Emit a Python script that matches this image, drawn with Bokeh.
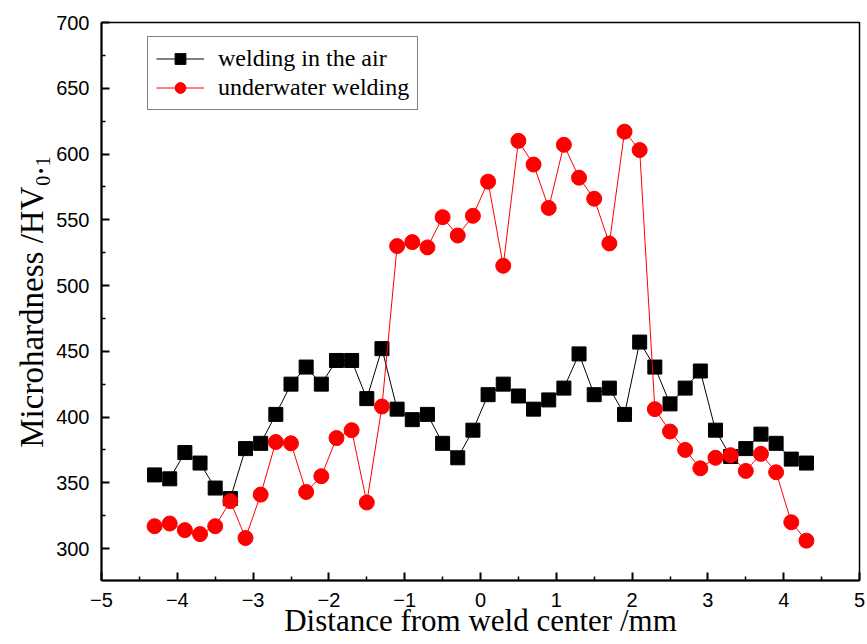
from bokeh.plotting import figure
from bokeh.models import Range1d, Legend, LegendItem, FixedTicker
from bokeh.embed import file_html
from bokeh.resources import INLINE

x_mm = [-4.3, -4.1, -3.9, -3.7, -3.5, -3.3, -3.1, -2.9, -2.7, -2.5, -2.3, -2.1, -1.9, -1.7, -1.5,
        -1.3, -1.1, -0.9, -0.7, -0.5, -0.3, -0.1, 0.1, 0.3, 0.5, 0.7, 0.9, 1.1, 1.3, 1.5,
        1.7, 1.9, 2.1, 2.3, 2.5, 2.7, 2.9, 3.1, 3.3, 3.5, 3.7, 3.9, 4.1, 4.3]
air = [356, 353, 373, 365, 346, 338, 376, 380, 402, 425, 438, 425, 443, 443, 414,
       452, 406, 398, 402, 380, 369, 390, 417, 425, 416, 406, 413, 422, 448, 417,
       422, 402, 457, 438, 410, 422, 435, 390, 370, 376, 387, 380, 368, 365]
underwater = [317, 319, 314, 311, 317, 336, 308, 341, 381, 380, 343, 355, 384, 390, 335,
              408, 530, 533, 529, 552, 538, 553, 579, 515, 610, 592, 559, 607, 582, 566,
              532, 617, 603, 406, 389, 375, 361, 369, 371, 359, 372, 358, 320, 306]
x_ticks = [-5, -4, -3, -2, -1, 0, 1, 2, 3, 4, 5]
y_ticks = [300, 350, 400, 450, 500, 550, 600, 650, 700]

p = figure(width=867, height=644, output_backend="svg", toolbar_location=None,
           x_range=Range1d(-5, 5), y_range=Range1d(275.7, 700),
           min_border_left=101, min_border_right=8, min_border_top=22, min_border_bottom=64)
p.grid.visible = False
p.outline_line_color = "black"
p.outline_line_width = 1.5
p.background_fill_color = "white"
p.border_fill_color = "white"

for ax in (p.xaxis[0], p.yaxis[0]):
    ax.major_tick_in = 8
    ax.major_tick_out = 0
    ax.minor_tick_in = 4
    ax.minor_tick_out = 0
    ax.axis_line_width = 2
    ax.major_tick_line_width = 2
    ax.minor_tick_line_width = 1.5
    ax.major_label_text_font = "Liberation Sans"
    ax.major_label_text_font_size = "20px"
    ax.major_label_text_color = "black"
    ax.axis_label_text_font = "Liberation Serif"
    ax.axis_label_text_font_style = "normal"
    ax.axis_label_text_color = "black"

p.xaxis[0].ticker = FixedTicker(ticks=x_ticks, minor_ticks=[v + 0.5 for v in x_ticks[:-1]])
p.yaxis[0].ticker = FixedTicker(ticks=y_ticks, minor_ticks=[v + 25 for v in y_ticks[:-1]] + [275])
p.xaxis[0].major_label_overrides = {v: ("\u2212" + str(-v) if v < 0 else str(v)) for v in x_ticks}
p.xaxis[0].major_label_standoff = 12
p.yaxis[0].major_label_standoff = 12

p.xaxis[0].axis_label = "Distance from weld center /mm"
p.xaxis[0].axis_label_text_font_size = "31px"
p.xaxis[0].axis_label_standoff = -7
p.yaxis[0].axis_label = "Microhardness /HV\u2080.\u2081"
p.yaxis[0].axis_label_text_font_size = "33px"
p.yaxis[0].axis_label_standoff = 3

l1 = p.line(x_mm, air, line_color="black", line_width=1)
s1 = p.scatter(x_mm, air, marker="square", size=14, fill_color="black", line_color="black")
l2 = p.line(x_mm, underwater, line_color="red", line_width=1)
s2 = p.scatter(x_mm, underwater, marker="circle", size=15, fill_color="red", line_color="red")

legend = Legend(items=[LegendItem(label="welding in the air", renderers=[l1, s1]),
                       LegendItem(label="underwater welding", renderers=[l2, s2])],
                location=(46, 470), label_text_font="Liberation Serif",
                label_text_font_size="24px", label_text_color="black",
                glyph_width=48, glyph_height=27,
                label_height=27, spacing=2, padding=8, margin=0,
                border_line_color="black", border_line_width=1,
                label_standoff=14)
p.add_layout(legend)

open("out.html", "w").write(file_html(p, INLINE))
